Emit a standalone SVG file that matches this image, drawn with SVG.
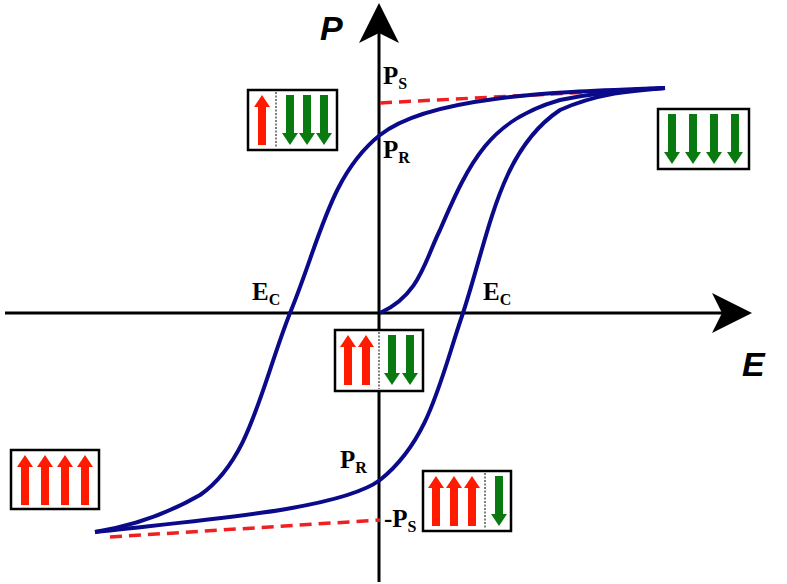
<svg xmlns="http://www.w3.org/2000/svg" width="787" height="584" viewBox="0 0 787 584">
<style>
.ax{stroke:#000;stroke-width:3;fill:none}
.cv{stroke:#0a0a8a;stroke-width:4;fill:none}
.ds{stroke:#f02020;stroke-width:3.5;fill:none;stroke-dasharray:12,7}
.bx{fill:#fff;stroke:#000;stroke-width:2.5}
.dv{stroke:#000;stroke-width:1;stroke-dasharray:2,1.5}
.lb{font-family:"Liberation Serif",serif;font-weight:bold;font-size:25px}
.sb{font-size:16px}
.ax-l{font-family:"Liberation Sans",sans-serif;font-weight:bold;font-style:italic;font-size:34px}
</style>
<defs>
<path id="up" d="M-4,25 L-4,-13 L-8,-13 L0,-25 L8,-13 L4,-13 L4,25 Z" fill="#ff1a00"/>
<path id="dn" d="M-4,-25 L-4,13 L-8,13 L0,25 L8,13 L4,13 L4,-25 Z" fill="#087a10"/>
</defs>
<rect width="787" height="584" fill="#fff"/>
<g id="axes">
<line class="ax" x1="5" y1="313" x2="745" y2="313"/>
<path d="M752,313 L712,293 L722,313 L712,333 Z"/>
<line class="ax" x1="379" y1="582" x2="379" y2="15"/>
<path d="M379,3 L359,43 L379,33 L399,43 Z"/>
<text class="ax-l" x="320" y="40">P</text>
<text class="ax-l" x="742" y="376">E</text>
</g>
<g id="curves">
<path class="ds" d="M380,103 L665,88"/>
<path class="ds" d="M110,537 L380,520"/>
<path class="cv" d="M665,88 C560,92 430,95 380,135 C330,175 320,240 290,313 C260,390 250,460 200,495 C160,518 120,528 95,532"/>
<path class="cv" d="M95,532 C200,520 340,510 380,480 C430,440 440,380 463,313 C490,230 500,150 560,110 C600,92 640,90 665,88"/>
<path class="cv" d="M380,313 C420,295 425,260 440,230 C470,160 490,120 560,100 C600,92 640,89 665,88"/>
</g>
<g id="labels">
<text class="lb" x="383" y="84">P<tspan class="sb" dy="5">S</tspan></text>
<text class="lb" x="383" y="158">P<tspan class="sb" dy="5">R</tspan></text>
<text class="lb" x="252" y="300">E<tspan class="sb" dy="5">C</tspan></text>
<text class="lb" x="483" y="300">E<tspan class="sb" dy="5">C</tspan></text>
<text class="lb" x="340" y="468">P<tspan class="sb" dy="5">R</tspan></text>
<text class="lb" x="384" y="527">-P<tspan class="sb" dy="5">S</tspan></text>
</g>
<g id="box1">
<rect class="bx" x="248" y="90" width="89" height="60"/>
<line class="dv" x1="276" y1="92" x2="276" y2="148"/>
<use href="#up" x="262" y="120"/><use href="#dn" x="290" y="120"/><use href="#dn" x="307" y="120"/><use href="#dn" x="324" y="120"/>
</g>
<g id="box2">
<rect class="bx" x="658" y="109" width="91" height="60"/>
<use href="#dn" x="672" y="139"/><use href="#dn" x="693" y="139"/><use href="#dn" x="714" y="139"/><use href="#dn" x="735" y="139"/>
</g>
<g id="box3">
<rect class="bx" x="335" y="330" width="88" height="61"/>
<line class="dv" x1="379" y1="332" x2="379" y2="389"/>
<use href="#up" x="348" y="360"/><use href="#up" x="366" y="360"/><use href="#dn" x="392" y="360"/><use href="#dn" x="410" y="360"/>
</g>
<g id="box4">
<rect class="bx" x="11" y="450" width="88" height="59"/>
<use href="#up" x="25" y="480"/><use href="#up" x="45" y="480"/><use href="#up" x="65" y="480"/><use href="#up" x="85" y="480"/>
</g>
<g id="box5">
<rect class="bx" x="423" y="471" width="88" height="60"/>
<line class="dv" x1="485" y1="473" x2="485" y2="529"/>
<use href="#up" x="436" y="501"/><use href="#up" x="454" y="501"/><use href="#up" x="472" y="501"/><use href="#dn" x="499" y="501"/>
</g>
</svg>
